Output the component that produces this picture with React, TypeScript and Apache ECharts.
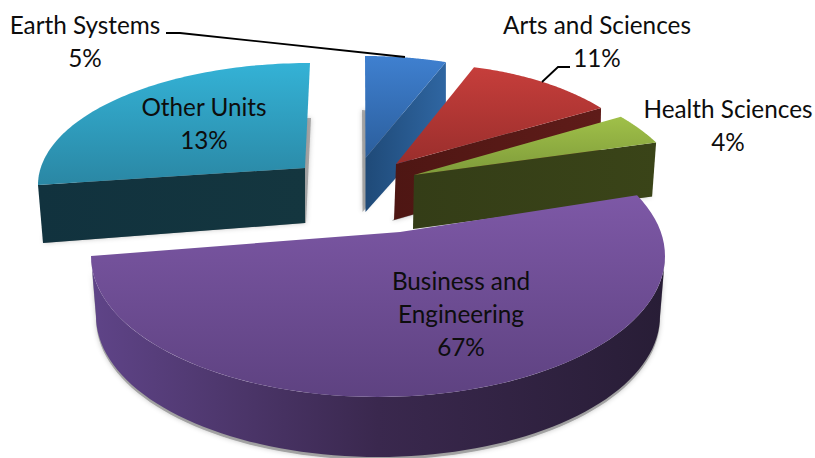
import React, { useEffect, useRef } from "react";
import * as echarts from "echarts";

// Draw order runs back to front.
const categories = ["Other Units", "Earth Systems", "Arts and Sciences", "Health Sciences", "Business and\nEngineering"];
const shares = [13, 5, 11, 4, 67];

// Presentation of each wedge, as seen in the reference's tilted 3D view.
const apexes = [[305, 168], [365.5, 158], [396, 164], [414, 175], [400, 232]];
const rimCentres = [[310, 185], [365, 160], [420, 192], [402, 208], [378, 256]];
const rimRadii = [[272, 122], [240, 104], [240, 128], [287, 141], [287, 141]];
const startAngles = [-90, -90, -77, -40.3, -25.5];
const degreesPerPercent = [-6.92, 3.94, 3.27, 3.15, 3.067];
const apexDrops = [[0, 55], [0, 54], [-2, 56], [-1, 54], [0, 60]];
const rimDrops = [[5, 58], [0, 60], [-1, 53], [-4, 54], [0, 60]];
const shadowNudges = [[1, 0], [-3, 0], [-2, 1], [0, 0], [0, 3]];
const topColors = [["#34B2D6", "#2A87A4"], ["#3F80D0", "#2B5E9C"], ["#C63E3B", "#9A2E2C"], ["#A0C049", "#7E9B3A"], ["#7D58A6", "#5E4281"]];
const wallColors = [["#11323E", "#14363F"], ["#1F4A78", "#2F66A2"], ["#4E1613", "#5F1C19"], ["#343D17", "#3A4418"], ["#5F4488", "#3A284E", "#281D36"]];

const labelCentres = [[204, 123], [85, 41], [597, 41], [728, 125], [461, 313]];
const leaderLines = [
  [[166, 33], [180, 33], [405, 57]],
  [[570, 67], [558, 67], [542, 82]],
];

const FONT = "Lato, Carlito, Calibri, sans-serif";

function renderSlice(_params: any, api: any) {
  const i = _params.dataIndex;
  const share = api.value(0);
  const start = startAngles[i];
  const end = start + share * degreesPerPercent[i];
  const [cx, cy] = rimCentres[i];
  const [rx, ry] = rimRadii[i];
  const pt = (deg: number, dx = 0, dy = 0, rxx = rx) => {
    const a = (deg * Math.PI) / 180;
    return [cx + dx + rxx * Math.cos(a), cy + dy + ry * Math.sin(a)];
  };
  const n = 80;
  const arc = (a: number, b: number, dx = 0, dy = 0, rxx = rx) => {
    const out: number[][] = [];
    for (let k = 0; k <= n; k++) out.push(pt(a + ((b - a) * k) / n, dx, dy, rxx));
    return out;
  };
  const apex = apexes[i];
  const [adx, ady] = apexDrops[i];
  const [rdx, rdy] = rimDrops[i];
  const [ndx, ndy] = shadowNudges[i];
  const rim = arc(start, end);
  const top = [...rim, apex];
  const wc = wallColors[i];
  const wallFill = new echarts.graphic.LinearGradient(0, 0, 1, 0,
    wc.map((c, k) => ({ offset: k / (wc.length - 1), color: c })));
  const topFill = new echarts.graphic.LinearGradient(0, 0, 0, 1, [
    { offset: 0, color: topColors[i][0] },
    { offset: 1, color: topColors[i][1] },
  ]);

  const isFront = end - start > 180;
  let wall: number[][];
  let shadowShape: number[][];
  if (isFront) {
    // The front wall follows the rim round the near side of the pie.
    wall = [...arc(0, 180), ...arc(180, 0, 0, rdy, rx - 5)];
    shadowShape = wall.map((p) => [p[0] + ndx, p[1] + ndy]);
  } else {
    const e = pt(end);
    wall = [apex, e, [e[0] + rdx, e[1] + rdy], [apex[0] + adx, apex[1] + ady]];
    // The shadow is the top face dropped by the wall's depth.
    shadowShape = [
      ...rim.map((p, k) => [p[0] + adx + ((rdx - adx) * k) / n + ndx, p[1] + ady + ((rdy - ady) * k) / n + ndy]),
      [apex[0] + adx + ndx, apex[1] + ady + ndy],
    ];
  }

  return {
    type: "group",
    children: [
      {
        type: "polygon",
        shape: { points: shadowShape },
        style: {
          fill: "rgba(110,110,110,0.55)",
          shadowBlur: 5,
          shadowColor: "rgba(0,0,0,0.4)",
        },
      },
      { type: "polygon", shape: { points: wall }, style: { fill: wallFill } },
      { type: "polygon", shape: { points: top }, style: { fill: topFill } },
    ],
  };
}

export default function App() {
  const ref = useRef<HTMLDivElement>(null);
  useEffect(() => {
    document.body.style.margin = "0";
    const chart = echarts.init(ref.current!, undefined, { renderer: "svg" });
    chart.setOption({
      animation: false,
      backgroundColor: "#ffffff",
      series: [
        {
          type: "custom",
          coordinateSystem: "none",
          renderItem: renderSlice,
          data: shares.map((s, i) => ({ name: categories[i], value: [s] })),
          silent: true,
          clip: false,
        },
      ],
      graphic: [
        ...leaderLines.map((points) => ({
          type: "polyline",
          z: 50,
          shape: { points },
          style: { stroke: "#000", lineWidth: 1.8, fill: "none" },
        })),
        ...categories.map((c, i) => ({
          type: "text",
          z: 60,
          x: labelCentres[i][0],
          y: labelCentres[i][1],
          style: {
            text: `${c}\n${shares[i]}%`,
            font: `24.3px ${FONT}`,
            fill: "#0d0d0d",
            align: "center",
            verticalAlign: "middle",
            lineHeight: 33,
          },
        })),
      ],
    });
    return () => chart.dispose();
  }, []);
  return <div ref={ref} style={{ width: 815, height: 458 }} />;
}
